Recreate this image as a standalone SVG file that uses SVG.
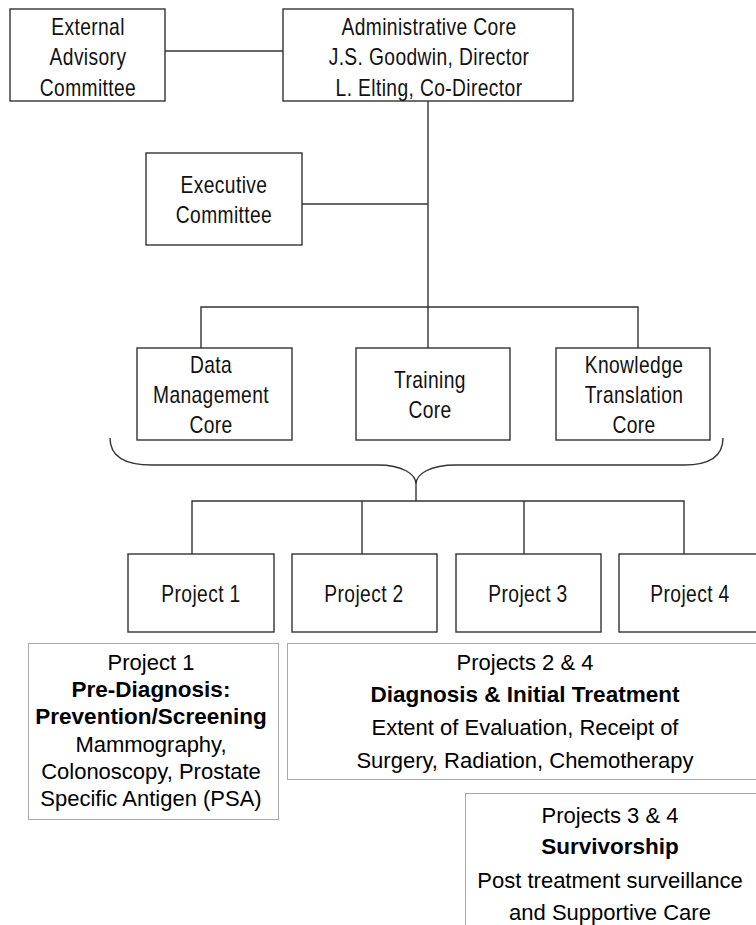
<svg xmlns="http://www.w3.org/2000/svg" width="756" height="925" viewBox="0 0 756 925">
<style>
.box{fill:#fff;stroke:#333;stroke-width:1.4}
.dbox{fill:#fff;stroke:#555;stroke-width:1;stroke-dasharray:1 1}
.ln{fill:none;stroke:#333;stroke-width:1.4}
.t{font-family:"Liberation Sans",Arial,sans-serif;font-size:24px;fill:#111;text-anchor:middle;letter-spacing:0.5px}
.r{font-family:"Liberation Sans",Arial,sans-serif;font-size:22px;fill:#000;text-anchor:middle}
.b{font-weight:bold;font-size:22.5px}
</style>
<rect width="756" height="925" fill="#fff"/>
<g id="connectors">
<line class="ln" x1="165" y1="51" x2="283" y2="51"/>
<line class="ln" x1="428" y1="101" x2="428" y2="348"/>
<line class="ln" x1="302" y1="204" x2="428" y2="204"/>
<polyline class="ln" points="201,348 201,307 638,307 638,348"/>
<path class="ln" d="M110,438 C110,455 122,465 152,465 L378,465 C402,465 416,474 416,484 C416,474 430,465 456,465 L684,465 C712,465 723,455 723,438"/>
<line class="ln" x1="416" y1="484" x2="416" y2="501"/>
<polyline class="ln" points="192,554 192,501 684,501 684,554"/>
<line class="ln" x1="362" y1="501" x2="362" y2="554"/>
<line class="ln" x1="524" y1="501" x2="524" y2="554"/>
</g>
<g id="external">
<rect class="box" x="10" y="9" width="155" height="92"/>
<text class="t" transform="matrix(0.8,0,0,1,88,35)">External</text>
<text class="t" transform="matrix(0.8,0,0,1,88,65)">Advisory</text>
<text class="t" transform="matrix(0.8,0,0,1,88,96)">Committee</text>
</g>
<g id="admin">
<rect class="box" x="283" y="9" width="290" height="92"/>
<text class="t" transform="matrix(0.8,0,0,1,429,35)">Administrative Core</text>
<text class="t" transform="matrix(0.8,0,0,1,429,65)">J.S. Goodwin, Director</text>
<text class="t" transform="matrix(0.8,0,0,1,429,96)">L. Elting, Co-Director</text>
</g>
<g id="executive">
<rect class="box" x="146" y="153" width="156" height="92"/>
<text class="t" transform="matrix(0.8,0,0,1,224,193)">Executive</text>
<text class="t" transform="matrix(0.8,0,0,1,224,223)">Committee</text>
</g>
<g id="data">
<rect class="box" x="137" y="348" width="155" height="92"/>
<text class="t" transform="matrix(0.8,0,0,1,211,373)">Data</text>
<text class="t" transform="matrix(0.8,0,0,1,211,403)">Management</text>
<text class="t" transform="matrix(0.8,0,0,1,211,433)">Core</text>
</g>
<g id="training">
<rect class="box" x="356" y="348" width="154" height="92"/>
<text class="t" transform="matrix(0.8,0,0,1,430,388)">Training</text>
<text class="t" transform="matrix(0.8,0,0,1,430,418)">Core</text>
</g>
<g id="knowledge">
<rect class="box" x="556" y="348" width="154" height="92"/>
<text class="t" transform="matrix(0.8,0,0,1,634,373)">Knowledge</text>
<text class="t" transform="matrix(0.8,0,0,1,634,403)">Translation</text>
<text class="t" transform="matrix(0.8,0,0,1,634,433)">Core</text>
</g>
<g id="project1">
<rect class="box" x="128" y="554" width="146" height="78"/>
<text class="t" transform="matrix(0.8,0,0,1,201,602)">Project 1</text>
</g>
<g id="project2">
<rect class="box" x="292" y="554" width="145" height="78"/>
<text class="t" transform="matrix(0.8,0,0,1,364,602)">Project 2</text>
</g>
<g id="project3">
<rect class="box" x="456" y="554" width="145" height="78"/>
<text class="t" transform="matrix(0.8,0,0,1,528,602)">Project 3</text>
</g>
<g id="project4">
<rect class="box" x="619" y="554" width="146" height="78"/>
<text class="t" transform="matrix(0.8,0,0,1,690,602)">Project 4</text>
</g>
<g id="p1desc">
<rect class="dbox" x="28.5" y="643.5" width="250" height="176"/>
<text class="r" x="151" y="670">Project 1</text>
<text class="r b" x="151" y="697">Pre-Diagnosis:</text>
<text class="r b" x="151" y="724">Prevention/Screening</text>
<text class="r" x="151" y="752">Mammography,</text>
<text class="r" x="151" y="779">Colonoscopy, Prostate</text>
<text class="r" x="151" y="806">Specific Antigen (PSA)</text>
</g>
<g id="p24desc">
<rect class="dbox" x="287.5" y="643.5" width="480" height="136"/>
<text class="r" x="525" y="670">Projects 2 &amp; 4</text>
<text class="r b" x="525" y="702">Diagnosis &amp; Initial Treatment</text>
<text class="r" x="525" y="735">Extent of Evaluation, Receipt of</text>
<text class="r" x="525" y="768">Surgery, Radiation, Chemotherapy</text>
</g>
<g id="p34desc">
<rect class="dbox" x="465.5" y="793.5" width="300" height="140"/>
<text class="r" x="610" y="823">Projects 3 &amp; 4</text>
<text class="r b" x="610" y="854">Survivorship</text>
<text class="r" x="610" y="888">Post treatment surveillance</text>
<text class="r" x="610" y="920">and Supportive Care</text>
</g>
</svg>
